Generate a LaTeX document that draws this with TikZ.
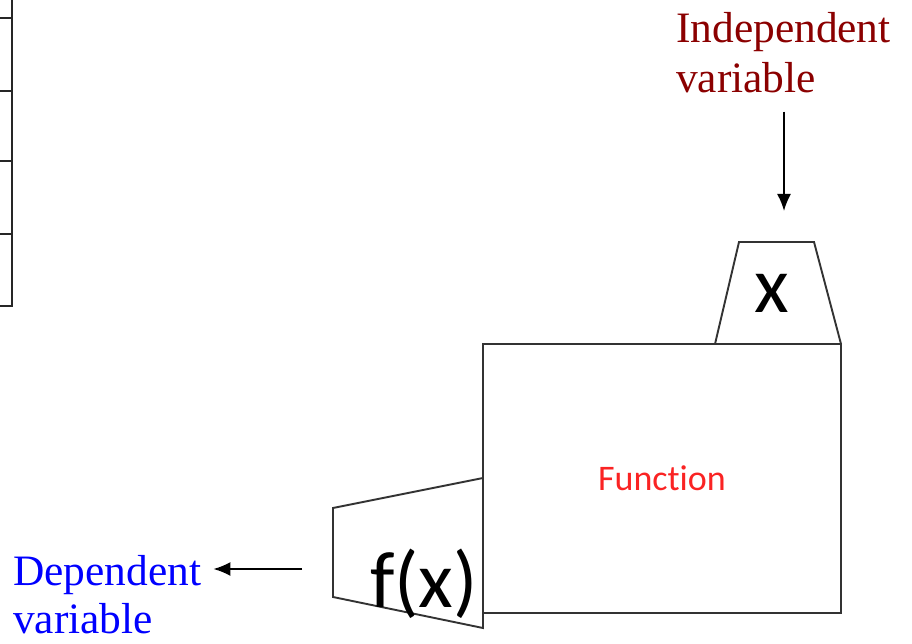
\documentclass[tikz,border=0pt]{standalone}
\usepackage{fontspec}
\setmainfont{Liberation Serif}
\newfontfamily\calib[Ligatures=NoCommon]{Carlito}
\usetikzlibrary{positioning,arrows.meta}
\definecolor{indepred}{RGB}{139,0,0}
\definecolor{depblue}{RGB}{0,0,255}
\definecolor{funcred}{RGB}{250,35,35}

\begin{document}
\begin{tikzpicture}[x=1pt,y=-1pt,>={Latex[length=17pt,width=14pt]},
  lbl/.style={inner sep=0pt,anchor=base west,font=\fontsize{43.4}{50}\selectfont},
  shp/.style={draw=black!80,line width=1.9pt},
  var/.style={inner sep=0pt,font=\calib\fontsize{80}{90}\selectfont}]
  \useasboundingbox (0,0) rectangle (912,644);
  % edge of the table on the left
  \draw[line width=2.4pt,black!85] (12,0) -- (12,306) -- (0,306);
  \foreach \y in {18,91,161,234} \draw[line width=2.4pt,black!85] (0,\y) -- (12,\y);
  \node[shp,minimum width=358pt,minimum height=269pt,text=funcred,
    font=\calib\fontsize{36}{40}\selectfont] (func) at (662,478.5) {Function};
  \draw[shp] (715,344) -- (739,242) -- (814,242) -- (841,344);
  \draw[shp] (483,478) -- (333,508) -- (333,597) -- (483,628) -- (483,613);
  \node[var] (x) at (772,293) {x};
  \node[var,anchor=base] (fx) at (424,607) {f(x)};
  \node[lbl,text=indepred] (indep) at (676,43) {Independent};
  \node[lbl,text=indepred] (indepv) at (676,93) {variable};
  \node[lbl,text=depblue] (dep) at (13,585) {Dependent};
  \node[lbl,text=depblue] (depv) at (13,633) {variable};
  \coordinate (xtop) at (784,211); \coordinate (fxout) at (302,569);
  \draw[->,line width=1.8pt,shorten <=18pt] (xtop |- indepv.south) -- (xtop);
  \draw[->,line width=1.8pt,shorten >=12pt] (fxout) -- (fxout -| dep.east);
\end{tikzpicture}
\end{document}
